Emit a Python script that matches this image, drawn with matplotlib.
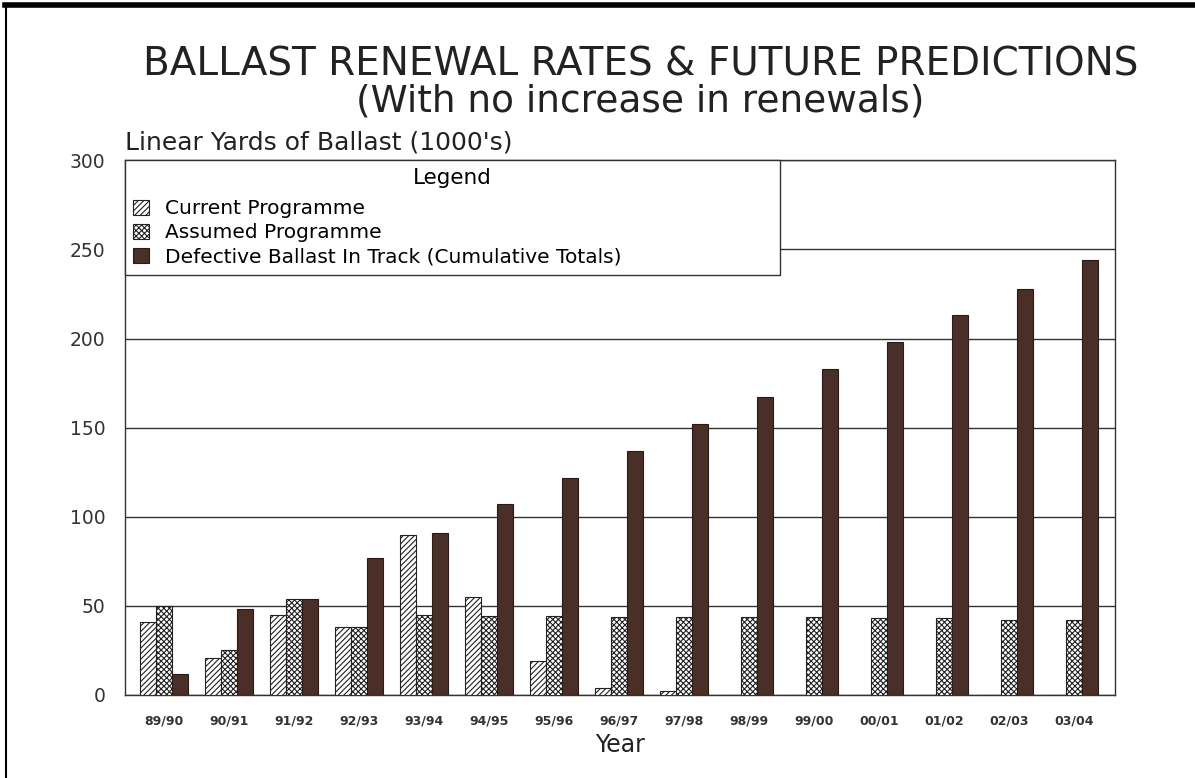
import numpy as np
import matplotlib.pyplot as plt
from matplotlib.lines import Line2D

years = ['89/90', '90/91', '91/92', '92/93', '93/94', '94/95', '95/96', '96/97',
         '97/98', '98/99', '99/00', '00/01', '01/02', '02/03', '03/04']
current = [41, 21, 45, 38, 90, 55, 19, 4, 2, 0, 0, 0, 0, 0, 0]
assumed = [50, 25, 54, 38, 45, 44.5, 44.5, 44, 44, 44, 43.5, 43, 43, 42, 42]
defective = [12, 48, 54, 77, 91, 107, 122, 137, 152, 167, 183, 198, 213, 228, 244]

plt.rcParams['font.family'] = ['DejaVu Sans']
plt.rcParams['hatch.linewidth'] = 0.8

fig = plt.figure(figsize=(11.95, 7.78), dpi=100)
ax = fig.add_axes([0.1046, 0.1067, 0.8285, 0.6873])

x = np.arange(len(years))
w = 0.25
ax.bar(x - w, current, w, color='white', edgecolor='#222222', hatch='//////', lw=0.8,
       label='Current Programme', zorder=3)
ax.bar(x, assumed, w, color='white', edgecolor='#222222', hatch='xxxxxx', lw=0.8,
       label='Assumed Programme', zorder=3)
ax.bar(x + w, defective, w, color='#4a2f28', edgecolor='#2a1a15', lw=0.8,
       label='Defective Ballast In Track (Cumulative Totals)', zorder=3)

ax.set_xlim(-0.6, 14.63)
ax.set_ylim(0, 300)
ax.set_yticks(range(0, 301, 50))
ax.yaxis.grid(True, color='#333333', lw=1.0)
ax.set_axisbelow(True)
ax.tick_params(length=0)
ax.tick_params(axis='y', pad=14)
ax.tick_params(axis='x', pad=14)
ax.set_xticks(x)
ax.set_xticklabels(years, fontsize=9, fontweight='bold', color='#333333')
for lab in ax.get_yticklabels():
    lab.set_fontsize(13.5)
    lab.set_color('#333333')
for s in ax.spines.values():
    s.set_color('#333333')
    s.set_linewidth(1.0)
ax.set_xlabel('Year', fontsize=17, color='#222222', labelpad=4)

leg = ax.legend(loc='upper left', bbox_to_anchor=(0.0, 0.0, 0.6616, 1.0), mode='expand',
                title='Legend', fontsize=14.5, title_fontsize=15.5, frameon=True,
                fancybox=False, borderaxespad=0, handlelength=0.8, handleheight=0.8,
                handletextpad=0.8, labelspacing=0.25, borderpad=0.4)
leg.get_frame().set_edgecolor('#333333')
leg.get_frame().set_linewidth(1.0)
leg.get_frame().set_alpha(1)
leg._legend_box.sep = 8

fig.text(0.536, 0.917, 'BALLAST RENEWAL RATES & FUTURE PREDICTIONS', ha='center',
         va='center', fontsize=28, color='#222222')
fig.text(0.536, 0.869, '(With no increase in renewals)', ha='center', va='center',
         fontsize=27, color='#222222')
fig.text(0.1046, 0.817, "Linear Yards of Ballast (1000's)", ha='left', va='center',
         fontsize=18, color='#222222')

fig.add_artist(Line2D([0.004, 1.0], [0.993, 0.993], color='black', lw=4,
                      transform=fig.transFigure))
fig.add_artist(Line2D([0.005, 0.005], [0.0, 0.995], color='black', lw=1.5,
                      transform=fig.transFigure))

plt.savefig('out.png', dpi=100)
